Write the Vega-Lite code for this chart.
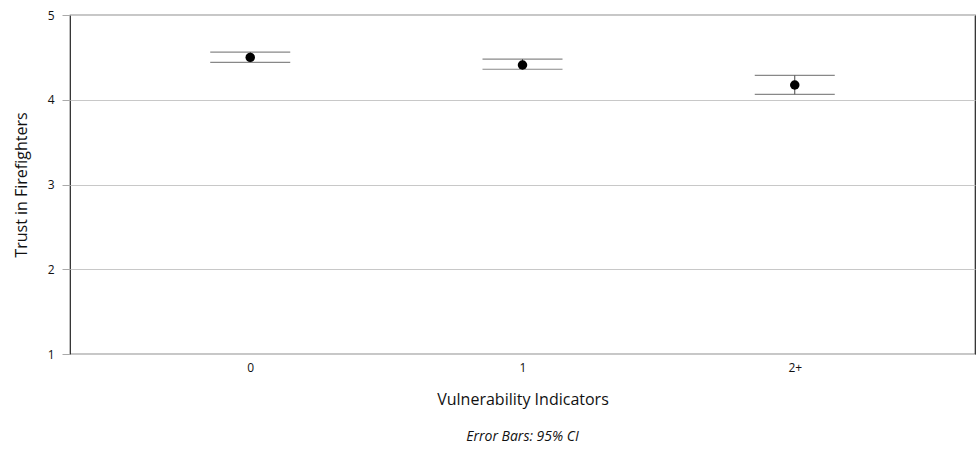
{
  "$schema": "https://vega.github.io/schema/vega-lite/v6.json",
  "width": 905,
  "height": 339,
  "autosize": "none",
  "padding": {"left": 70, "top": 15, "right": 5, "bottom": 97},
  "background": "white",
  "config": {
    "font": "Open Sans",
    "view": {"stroke": "#222", "strokeWidth": 1.2}
  },
  "title": {
    "text": "Error Bars: 95% CI",
    "orient": "bottom",
    "anchor": "middle",
    "fontStyle": "italic",
    "fontWeight": "normal",
    "fontSize": 14,
    "color": "#111",
    "offset": 23,
    "font": "Open Sans"
  },
  "data": {
    "values": [
      {"group": "0", "mean": 4.50, "lower": 4.442, "upper": 4.563},
      {"group": "1", "mean": 4.41, "lower": 4.36, "upper": 4.48},
      {"group": "2+", "mean": 4.174, "lower": 4.064, "upper": 4.288}
    ]
  },
  "encoding": {
    "x": {
      "field": "group",
      "type": "ordinal",
      "sort": null,
      "scale": {"type": "point", "padding": 0.662},
      "axis": {
        "title": "Vulnerability Indicators",
        "titleFontSize": 16,
        "titleFontWeight": "normal",
        "titleColor": "#111",
        "titlePadding": 18,
        "labelAngle": 0,
        "labelFontSize": 12,
        "labelColor": "#111",
        "labelPadding": 8,
        "ticks": false,
        "domain": false,
        "grid": false
      }
    }
  },
  "layer": [
    {
      "mark": {"type": "rule", "color": "#444", "strokeWidth": 1},
      "encoding": {
        "y": {
          "field": "lower",
          "type": "quantitative",
          "scale": {"domain": [1, 5], "nice": false},
          "axis": {
            "title": "Trust in Firefighters",
            "titleFontSize": 16,
            "titleFontWeight": "normal",
            "titleColor": "#111",
            "titlePadding": 18,
            "values": [1, 2, 3, 4, 5],
            "format": "d",
            "labelFontSize": 12,
            "labelColor": "#111",
            "labelPadding": 8,
            "tickSize": 8,
            "tickColor": "#aaa",
            "domain": false,
            "grid": true,
            "gridColor": "#c8c8c8",
            "gridWidth": 1
          }
        },
        "y2": {"field": "upper"}
      }
    },
    {
      "mark": {"type": "tick", "orient": "horizontal", "size": 80, "thickness": 1.2, "color": "#555"},
      "encoding": {"y": {"field": "upper", "type": "quantitative"}}
    },
    {
      "mark": {"type": "tick", "orient": "horizontal", "size": 80, "thickness": 1.2, "color": "#555"},
      "encoding": {"y": {"field": "lower", "type": "quantitative"}}
    },
    {
      "mark": {"type": "point", "filled": true, "shape": "circle", "size": 90, "color": "#000", "opacity": 1},
      "encoding": {"y": {"field": "mean", "type": "quantitative"}}
    }
  ]
}
